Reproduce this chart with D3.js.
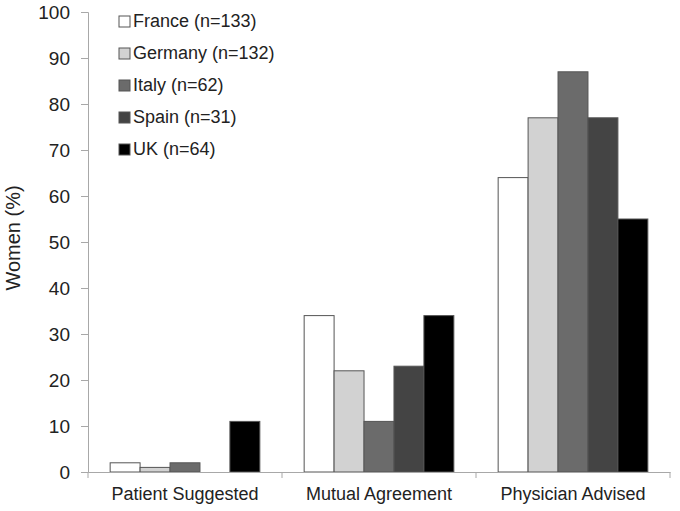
<!DOCTYPE html>
<html>
<head>
<meta charset="utf-8">
<script src="https://cdn.jsdelivr.net/npm/d3@7"></script>
<style>
  body { margin: 0; background: #fff; }
  svg { font-family: "Liberation Sans", Arial, sans-serif; }
</style>
</head>
<body>
<svg id="chart" width="680" height="511"></svg>
<script>
const categories = ["Patient Suggested", "Mutual Agreement", "Physician Advised"];
const countries = ["France (n=133)", "Germany (n=132)", "Italy (n=62)", "Spain (n=31)", "UK (n=64)"];
const france = [2, 34, 64];
const germany = [1, 22, 77];
const italy = [2, 11, 87];
const spain = [0, 23, 77];
const uk = [11, 34, 55];
const colors = ["#ffffff", "#d2d2d2", "#6b6b6b", "#444444", "#000000"];
const yTicks = [0, 10, 20, 30, 40, 50, 60, 70, 80, 90, 100];

const series = [france, germany, italy, spain, uk];

const svg = d3.select("#chart");
const margin = { left: 88, right: 10, top: 12, bottom: 39 };
const width = 680, height = 511;

const x = d3.scaleBand()
  .domain(categories)
  .range([margin.left, width - margin.right])
  .paddingInner(0)
  .paddingOuter(0);

const xInner = d3.scaleBand()
  .domain(d3.range(countries.length))
  .range([0, x.bandwidth()])
  .paddingOuter(0.74)
  .paddingInner(0);

const y = d3.scaleLinear()
  .domain([0, 100])
  .range([height - margin.bottom, margin.top]);

// Bars
const groups = svg.append("g")
  .selectAll("g")
  .data(categories)
  .enter()
  .append("g")
  .attr("transform", function (d) {
    return "translate(" + x(d) + ",0)";
  });

groups.selectAll("rect")
  .data(function (d, i) {
    return series.map(function (s, j) {
      return { idx: j, value: s[i] };
    });
  })
  .enter()
  .filter(function (d) { return d.value > 0; })
  .append("rect")
  .attr("x", function (d) { return xInner(d.idx); })
  .attr("y", function (d) { return y(d.value); })
  .attr("width", xInner.bandwidth())
  .attr("height", function (d) { return y(0) - y(d.value); })
  .attr("fill", function (d) { return colors[d.idx]; })
  .attr("stroke", "#555")
  .attr("stroke-width", 1);

// Y axis
const yAxis = svg.append("g")
  .attr("transform", "translate(" + margin.left + ",0)")
  .call(d3.axisLeft(y).tickValues(yTicks).tickSize(7).tickPadding(11));
yAxis.select(".domain").attr("stroke", "#a8a8a8");
yAxis.selectAll(".tick line").attr("stroke", "#a8a8a8");
yAxis.selectAll(".tick text")
  .attr("font-size", 19)
  .attr("fill", "#222")
  .attr("font-family", "Liberation Sans, Arial, sans-serif");

// X axis
const xAxis = svg.append("g")
  .attr("transform", "translate(0," + y(0) + ")")
  .call(d3.axisBottom(x).tickSize(0).tickPadding(15));
xAxis.select(".domain").attr("stroke", "#a8a8a8");
xAxis.selectAll(".tick text")
  .attr("font-size", 18)
  .attr("fill", "#222")
  .attr("font-family", "Liberation Sans, Arial, sans-serif");

// category boundary ticks
const bounds = categories.map(function (c) { return x(c); }).concat([x(categories[categories.length - 1]) + x.bandwidth()]);
svg.append("g")
  .selectAll("line")
  .data(bounds)
  .enter()
  .append("line")
  .attr("x1", function (d) { return d; })
  .attr("x2", function (d) { return d; })
  .attr("y1", y(0))
  .attr("y2", y(0) + 6)
  .attr("stroke", "#a8a8a8");

// Y label
svg.append("text")
  .attr("transform", "translate(20,238) rotate(-90)")
  .attr("text-anchor", "middle")
  .attr("font-size", 20)
  .attr("fill", "#222")
  .text("Women (%)");

// Legend
const legend = svg.append("g")
  .selectAll("g")
  .data(countries)
  .enter()
  .append("g")
  .attr("transform", function (d, i) {
    return "translate(119," + (21 + i * 32) + ")";
  });

legend.append("rect")
  .attr("x", 0)
  .attr("y", -5)
  .attr("width", 11)
  .attr("height", 11)
  .attr("fill", function (d, i) { return colors[i]; })
  .attr("stroke", "#555");

legend.append("text")
  .attr("x", 14)
  .attr("dy", "0.36em")
  .attr("font-size", 18)
  .attr("fill", "#222")
  .text(function (d) { return d; });
</script>
</body>
</html>
